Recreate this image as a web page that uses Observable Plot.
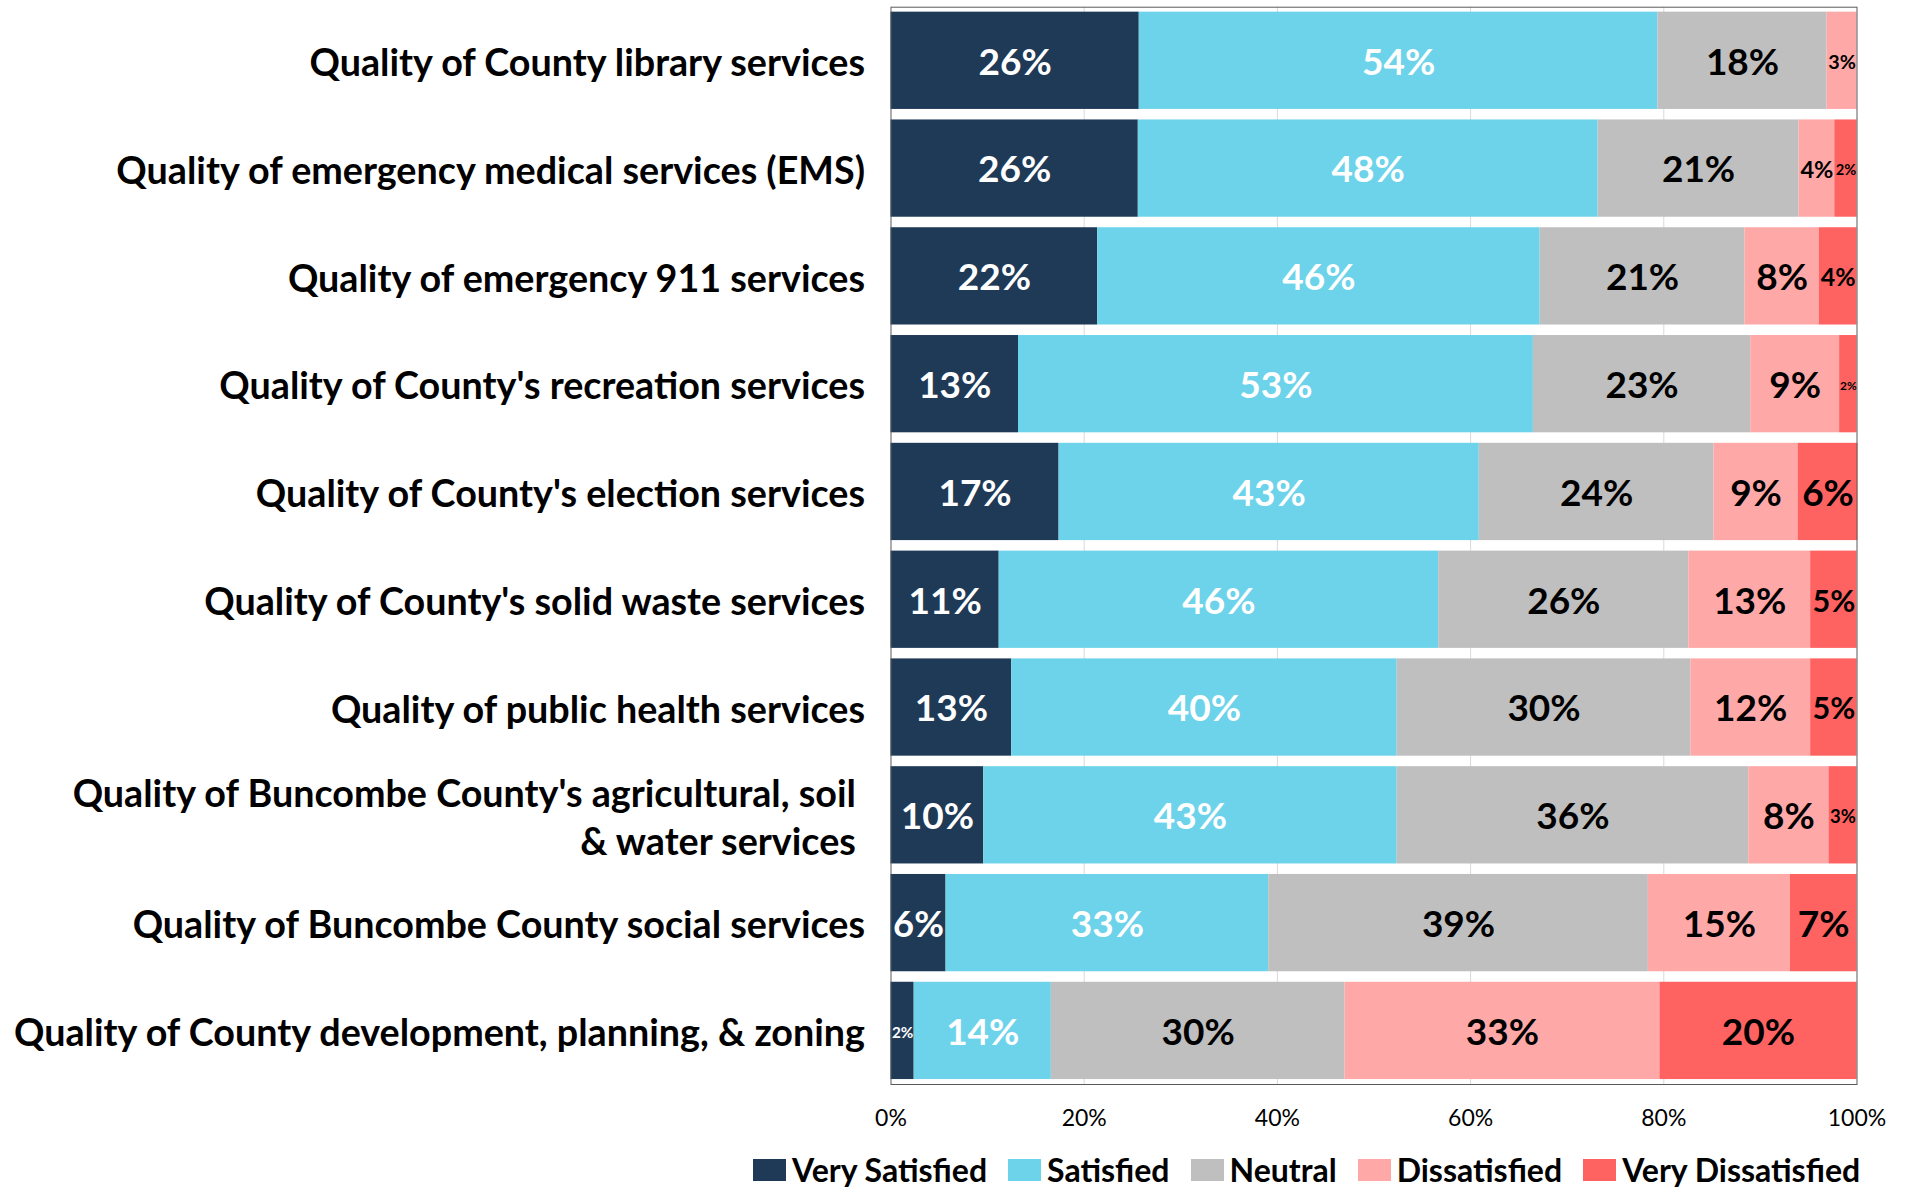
<!DOCTYPE html>
<html>
<head>
<meta charset="utf-8">
<script src="https://cdn.jsdelivr.net/npm/d3@7"></script>
<script src="https://cdn.jsdelivr.net/npm/@observablehq/plot@0.6"></script>
<style>
  body { margin: 0; background: #fff; font-family: Lato, "Open Sans", sans-serif; }
  #legend { margin-left: 753px; margin-top: 10px; }
  .lg-swatches { font-family: Lato, sans-serif !important; font-size: 32px !important; font-weight: bold !important; color: #000 !important; margin: 0 !important; }
  .lg-swatches-wrap .lg-swatch { margin-right: 21px !important; }
  .lg-swatch > svg { margin-right: 6px !important; }
</style>
</head>
<body>
<div id="chart"></div>
<div id="legend"></div>
<script>
const categories = [
  "Quality of County library services",
  "Quality of emergency medical services (EMS)",
  "Quality of emergency 911 services",
  "Quality of County's recreation services",
  "Quality of County's election services",
  "Quality of County's solid waste services",
  "Quality of public health services",
  "Quality of Buncombe County's agricultural, soil & water services",
  "Quality of Buncombe County social services",
  "Quality of County development, planning, & zoning"
];
const categoryLabels = [
  "Quality of County library services",
  "Quality of emergency medical services (EMS)",
  "Quality of emergency 911 services",
  "Quality of County's recreation services",
  "Quality of County's election services",
  "Quality of County's solid waste services",
  "Quality of public health services",
  "Quality of Buncombe County's agricultural, soil\u00a0\n& water services\u00a0",
  "Quality of Buncombe County social services",
  "Quality of County development, planning, & zoning"
];
const levels = ["Very Satisfied", "Satisfied", "Neutral", "Dissatisfied", "Very Dissatisfied"];
const colors = ["#1f3a57", "#6dd3ea", "#bfbfbf", "#ffa8a8", "#ff6361"];

const verySatisfied    = [25.7, 25.6, 21.4, 13.2, 17.4, 11.2, 12.5,  9.6,  5.7,  2.4];
const satisfied        = [53.7, 47.6, 45.8, 53.3, 43.5, 45.5, 39.9, 42.8, 33.4, 14.2];
const neutral          = [17.5, 20.8, 21.2, 22.5, 24.3, 25.9, 30.4, 36.4, 39.3, 30.4];
const dissatisfied     = [ 3.1,  3.7,  7.7,  9.2,  8.7, 12.6, 12.4,  8.3, 14.7, 32.6];
const veryDissatisfied = [ 0.0,  2.3,  3.9,  1.8,  6.2,  4.8,  4.8,  2.9,  6.9, 20.4];

const verySatisfiedLabels    = ["26%", "26%", "22%", "13%", "17%", "11%", "13%", "10%", "6%", "2%"];
const satisfiedLabels        = ["54%", "48%", "46%", "53%", "43%", "46%", "40%", "43%", "33%", "14%"];
const neutralLabels          = ["18%", "21%", "21%", "23%", "24%", "26%", "30%", "36%", "39%", "30%"];
const dissatisfiedLabels     = ["3%", "4%", "8%", "9%", "9%", "13%", "12%", "8%", "15%", "33%"];
const veryDissatisfiedLabels = ["", "2%", "4%", "2%", "6%", "5%", "5%", "3%", "7%", "20%"];

const xTicks = [0, 20, 40, 60, 80, 100];
const gridTicks = [20, 40, 60, 80];

const series = [verySatisfied, satisfied, neutral, dissatisfied, veryDissatisfied];
const seriesLabels = [verySatisfiedLabels, satisfiedLabels, neutralLabels, dissatisfiedLabels, veryDissatisfiedLabels];

const data = [];
categories.forEach((c, i) => {
  levels.forEach((l, j) => {
    data.push({category: c, level: l, li: j, value: series[j][i], label: seriesLabels[j][i]});
  });
});

const W = 1908, H = 1140, mL = 890.5, mR = 51.5, mT = 6.7, mB = 56;
const pxPerUnit = (W - mL - mR) / 100;
const labelSize = d => Math.min(37, Math.max(12, d.value * pxPerUnit * 0.66));

const chart = Plot.plot({
  width: W,
  height: H,
  marginLeft: mL,
  marginRight: mR,
  marginTop: mT,
  marginBottom: mB,
  style: {fontFamily: "Lato, sans-serif", background: "#fff", color: "#000"},
  x: {domain: [0, 100], axis: null},
  y: {domain: categories, paddingInner: 0.0975, paddingOuter: 0.046, round: false, axis: null},
  color: {domain: levels, range: colors},
  marks: [
    Plot.ruleX(gridTicks, {x: d => d, stroke: "#d9d9d9", strokeWidth: 1}),
    Plot.barX(data, Plot.stackX({x: "value", y: "category", z: "level", fill: "level", order: levels})),
    Plot.text(data, Plot.stackX({
      x: "value", y: "category", z: "level", order: levels,
      text: d => d.li < 2 ? d.label : "",
      fill: "#ffffff", fontWeight: "bold", fontSize: labelSize, dy: 2
    })),
    Plot.text(data, Plot.stackX({
      x: "value", y: "category", z: "level", order: levels,
      text: d => d.li >= 2 ? d.label : "",
      fill: "#000000", fontWeight: "bold", fontSize: labelSize, dy: 2
    })),
    Plot.text(categories, {
      y: d => d, text: (d, i) => categoryLabels[i],
      frameAnchor: "left", dx: -26, textAnchor: "end",
      fontSize: 37.7, fontWeight: "bold", lineHeight: 1.27, fill: "#000"
    }),
    Plot.text(xTicks, {
      x: d => d, text: d => d + "%",
      frameAnchor: "bottom", lineAnchor: "top", dy: 25,
      fontSize: 23, fill: "#000"
    }),
    Plot.frame({stroke: "#5a5a5a", strokeWidth: 1})
  ]
});
document.getElementById("chart").appendChild(chart);

const legend = Plot.legend({
  color: {domain: levels, range: colors},
  legend: "swatches",
  swatchWidth: 33,
  swatchHeight: 22,
  className: "lg"
});
document.getElementById("legend").appendChild(legend);
</script>
</body>
</html>
